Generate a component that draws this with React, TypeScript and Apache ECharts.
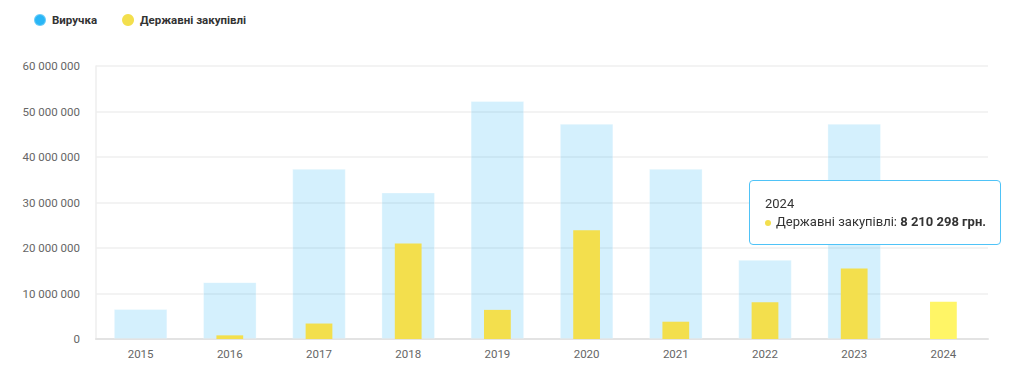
import React, { useEffect, useRef } from "react";
import * as echarts from "echarts";

const categories = ["2015", "2016", "2017", "2018", "2019", "2020", "2021", "2022", "2023", "2024"];
const revenue: (number | null)[] = [6600000, 12500000, 37400000, 32200000, 52300000, 47300000, 37400000, 17400000, 47300000, null];
const procurement: (number | null)[] = [null, 800000, 3400000, 21000000, 6400000, 23900000, 3800000, 8100000, 15500000, 8210298];
const yTicks = { min: 0, max: 60000000, interval: 10000000 };
const seriesNames = ["Виручка", "Державні закупівлі"];
const currency = "грн.";
const highlightedIndex = 9;

const BLUE = "#29b6f6";
const YELLOW = "#f3df4d";
const YELLOW_HI = "#fff566";

const fmt = (v: number) => String(Math.round(v)).replace(/\B(?=(\d{3})+(?!\d))/g, " ");

export default function App() {
  const ref = useRef<HTMLDivElement>(null);
  useEffect(() => {
    if (!ref.current) return;
    const chart = echarts.init(ref.current, undefined, { renderer: "svg" });
    chart.setOption({
      animation: false,
      textStyle: { fontFamily: "Roboto" },
      legend: {
        left: 28,
        top: 8,
        itemWidth: 12,
        itemHeight: 12,
        itemGap: 25,
        icon: "circle",
        textStyle: { fontFamily: "Roboto", fontSize: 11.5, fontWeight: "bold", color: "#333", padding: [0, 0, 0, 1] },
        data: [
          { name: seriesNames[0], itemStyle: { color: BLUE, opacity: 1 } },
          { name: seriesNames[1], itemStyle: { color: YELLOW } },
        ],
      },
      tooltip: {
        trigger: "item",
        triggerOn: "none",
        alwaysShowContent: true,
        transitionDuration: 0,
        position: [749, 180],
        backgroundColor: "#fff",
        borderColor: "#4fc3f7",
        borderWidth: 1,
        borderRadius: 4,
        padding: [14, 14, 13, 15],
        extraCssText: "box-shadow:none;",
        textStyle: { fontFamily: "Roboto", fontSize: 13, color: "#333", lineHeight: 18 },
        formatter: (p: any) =>
          `${p.name}<br/><span style="display:inline-block;width:6px;height:6px;border-radius:50%;background:${YELLOW};margin-right:5px;vertical-align:middle;"></span>${p.seriesName}: <b>${fmt(p.value)} ${currency}</b>`,
      },
      grid: { left: 96, right: 36, top: 66, bottom: 33, containLabel: false },
      xAxis: [
        {
          type: "category",
          data: categories,
          axisLine: { show: true, lineStyle: { color: "#e3e3e3", width: 2 } },
          axisTick: { show: false },
          axisLabel: { color: "#666", fontSize: 11.5, margin: 9 },
          splitLine: { show: false },
        },
        {
          type: "category",
          data: categories,
          show: false,
        },
      ],
      yAxis: {
        type: "value",
        min: yTicks.min,
        max: yTicks.max,
        interval: yTicks.interval,
        axisLine: { show: true, lineStyle: { color: "#eeeeee", width: 1.5 } },
        axisTick: { show: false },
        axisLabel: { color: "#666", fontSize: 11.5, margin: 16, formatter: (v: number) => fmt(v) },
        splitLine: { show: true, lineStyle: { color: "#efefef", width: 1.5 } },
      },
      series: [
        {
          name: seriesNames[0],
          type: "bar",
          xAxisIndex: 0,
          barWidth: "60%",
          data: revenue,
          itemStyle: { color: "rgba(41,182,246,0.2)", borderColor: "rgba(255,255,255,0.3)", borderWidth: 1 },
          emphasis: { disabled: true },
        },
        {
          name: seriesNames[1],
          type: "bar",
          xAxisIndex: 1,
          barWidth: "30%",
          data: procurement,
          itemStyle: { color: YELLOW },
          emphasis: { itemStyle: { color: YELLOW_HI } },
        },
      ],
    });
    chart.dispatchAction({ type: "highlight", seriesIndex: 1, dataIndex: highlightedIndex });
    chart.dispatchAction({ type: "showTip", seriesIndex: 1, dataIndex: highlightedIndex });
    return () => chart.dispose();
  }, []);
  return <div ref={ref} style={{ position: "absolute", left: 0, top: 0, width: 1024, height: 372 }} />;
}
